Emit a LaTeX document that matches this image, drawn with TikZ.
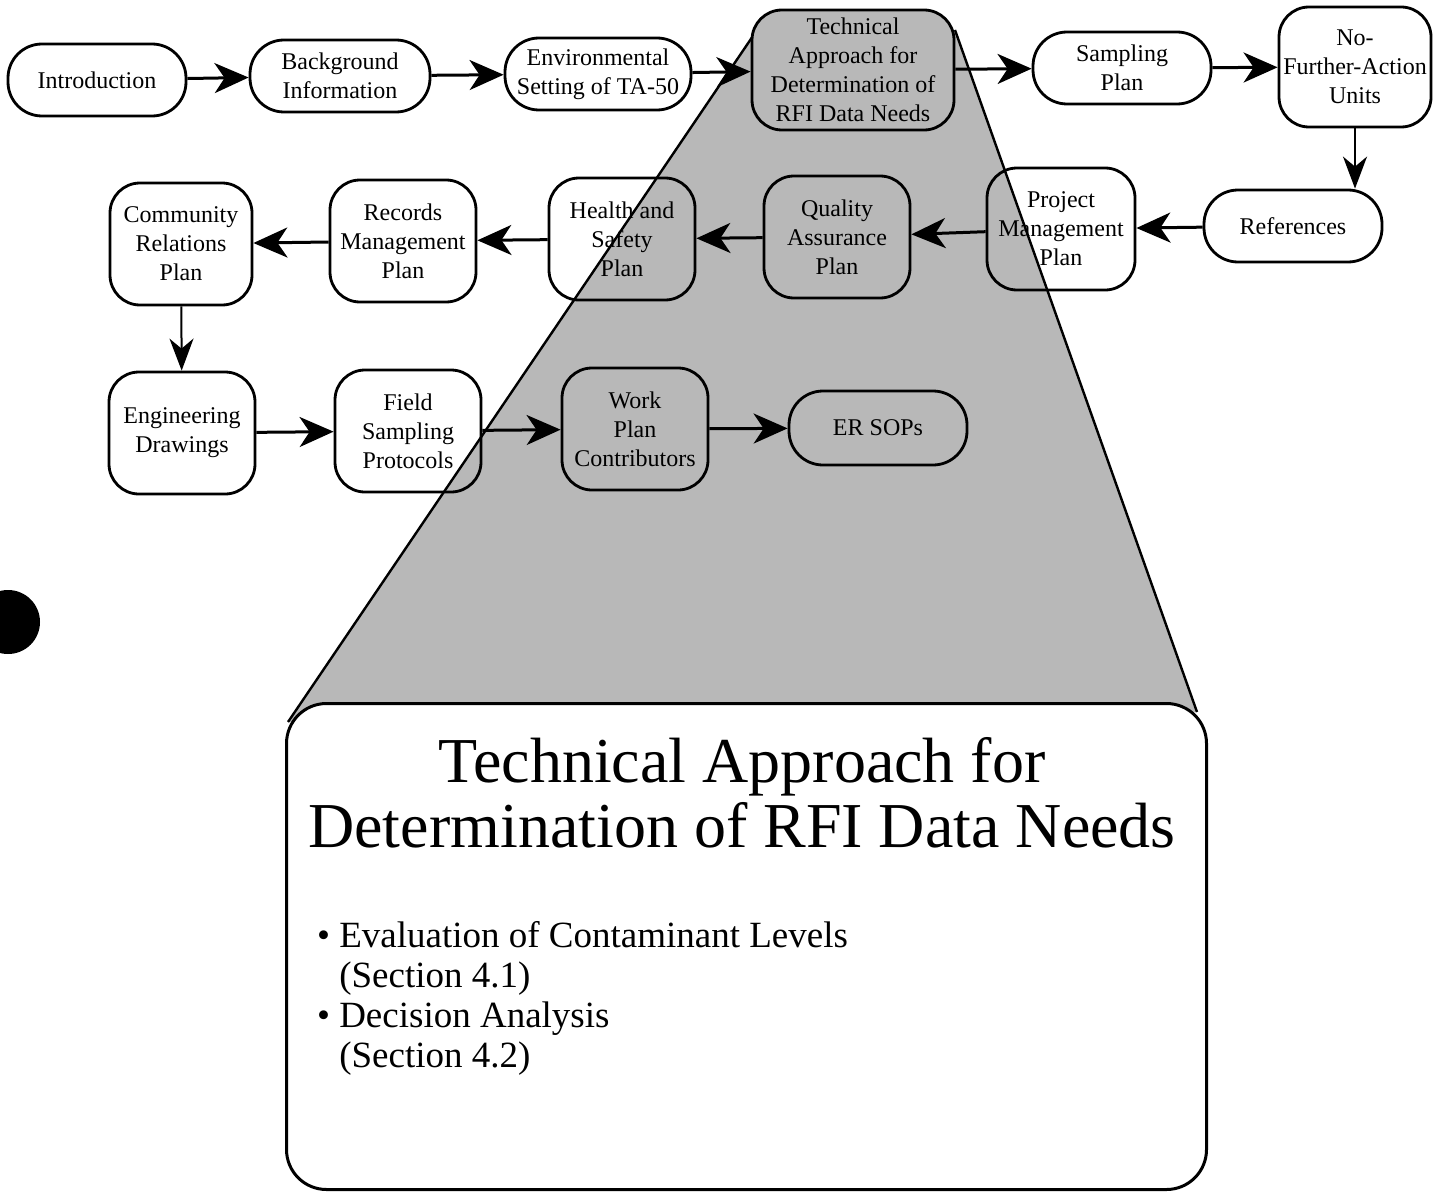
\documentclass[tikz,border=0pt]{standalone}
\usepackage{fontspec}
\setmainfont{Liberation Serif}
\usetikzlibrary{arrows.meta,positioning,calc,backgrounds}
\colorlet{wedgegray}{black!28}

\begin{document}
\begin{tikzpicture}[
    x=0.5pt, y=-0.5pt,
    font=\fontsize{12}{14.5}\selectfont,
    plan/.style={
      draw,
      line width=1.4pt,
      rounded corners=15pt,
      align=center,
      inner sep=1pt,
    },
    pill/.style={plan, minimum width=89pt, minimum height=36pt, rounded corners=17pt},
    block/.style={plan, minimum width=73pt, minimum height=61pt},
    flow/.style={line width=1.5pt, -{Stealth[length=17pt,width=15pt,inset=5pt]}},
    thinflow/.style={line width=1pt, -{Stealth[length=16pt,width=12pt,inset=5pt]}},
    zoomline/.style={line width=1.2pt},
  ]
    \useasboundingbox (0,0) rectangle (1445,1193);

    % top row
    \node[pill] (Intro) at (97,80) {Introduction};
    \node[pill, minimum width=90pt] (Background) at (340,76) {Background\\Information};
    \node[pill, minimum width=93pt] (Setting) at (598,74) {Environmental\\Setting of TA-50};
    \node[plan, fill=wedgegray, minimum width=101pt, minimum height=60pt] (Approach) at (853,70)
      {Technical\\Approach for\\Determination of\\RFI Data Needs};
    \node[pill] (Sampling) at (1122,68) {Sampling\\Plan};
    \node[block, minimum width=76pt, minimum height=60pt] (NoAction) at (1355,67)
      {No-\\Further-Action\\Units};

    % middle row
    \node[pill] (Refs) at (1293,226) {References};
    \node[block, minimum width=74pt] (Project) at (1061,229) {Project\\Management\\Plan};
    \node[block] (Quality) at (837,237) {Quality\\Assurance\\Plan};
    \node[block] (Health) at (622,239) {Health and\\Safety\\Plan};
    \node[block] (Records) at (403,241) {Records\\Management\\Plan};
    \node[block, minimum width=71pt] (Community) at (181,244) {Community\\Relations\\Plan};

    % bottom row
    \node[block] (Drawings) at (182,433) {Engineering\\Drawings};
    \node[block] (Protocols) at (408,431) {Field\\Sampling\\Protocols};
    \node[block] (Contrib) at (635,429) {Work\\Plan\\Contributors};
    \node[pill, minimum height=37pt] (SOPs) at (878,428) {ER SOPs};

    % enlarged box
    \node[draw, line width=1.5pt, fill=white, rounded corners=20pt,
      minimum width=460pt, minimum height=243pt] (Detail) at (746.5,946.5) {};
    \node[font=\fontsize{32}{32.5}\selectfont, align=center] (DetailTitle) at (742,793)
      {Technical Approach for\\Determination of RFI Data Needs};
    \node[font=\fontsize{18.5}{20}\selectfont, align=left, anchor=north west] (DetailList) at (310,914)
      {\textbullet\ Evaluation of Contaminant Levels\\
       \phantom{\textbullet\ }(Section 4.1)\\
       \textbullet\ Decision Analysis\\
       \phantom{\textbullet\ }(Section 4.2)};

    % zoom wedge
    \begin{scope}[on background layer]
      \fill[wedgegray] (757,30) -- (955,30) -- (1197,712) -- (288,722) -- cycle;
      \draw[zoomline] (757,30) -- (288,722);
      \draw[zoomline] (955,30) -- (1197,712);
    \end{scope}

    % connectors
    \draw[flow] (Intro) -- (Background);
    \draw[flow] (Background) -- (Setting);
    \draw[flow] (Setting) -- (Approach);
    \draw[flow] (Approach) -- (Sampling);
    \draw[flow] (Sampling) -- (NoAction);
    \draw[thinflow] (NoAction) -- (NoAction |- Refs.north);
    \draw[flow] (Refs) -- (Project);
    \draw[flow] (Project) -- (Quality);
    \draw[flow] (Quality) -- (Health);
    \draw[flow] (Health) -- (Records);
    \draw[flow] (Records) -- (Community);
    \draw[thinflow] (Community) -- (Drawings);
    \draw[flow] (Drawings) -- (Protocols);
    \draw[flow] (Protocols) -- (Contrib);
    \draw[flow] (Contrib) -- (SOPs);

    % punch hole
    \fill (8,622) circle[radius=16pt];
  \end{tikzpicture}
\end{document}
